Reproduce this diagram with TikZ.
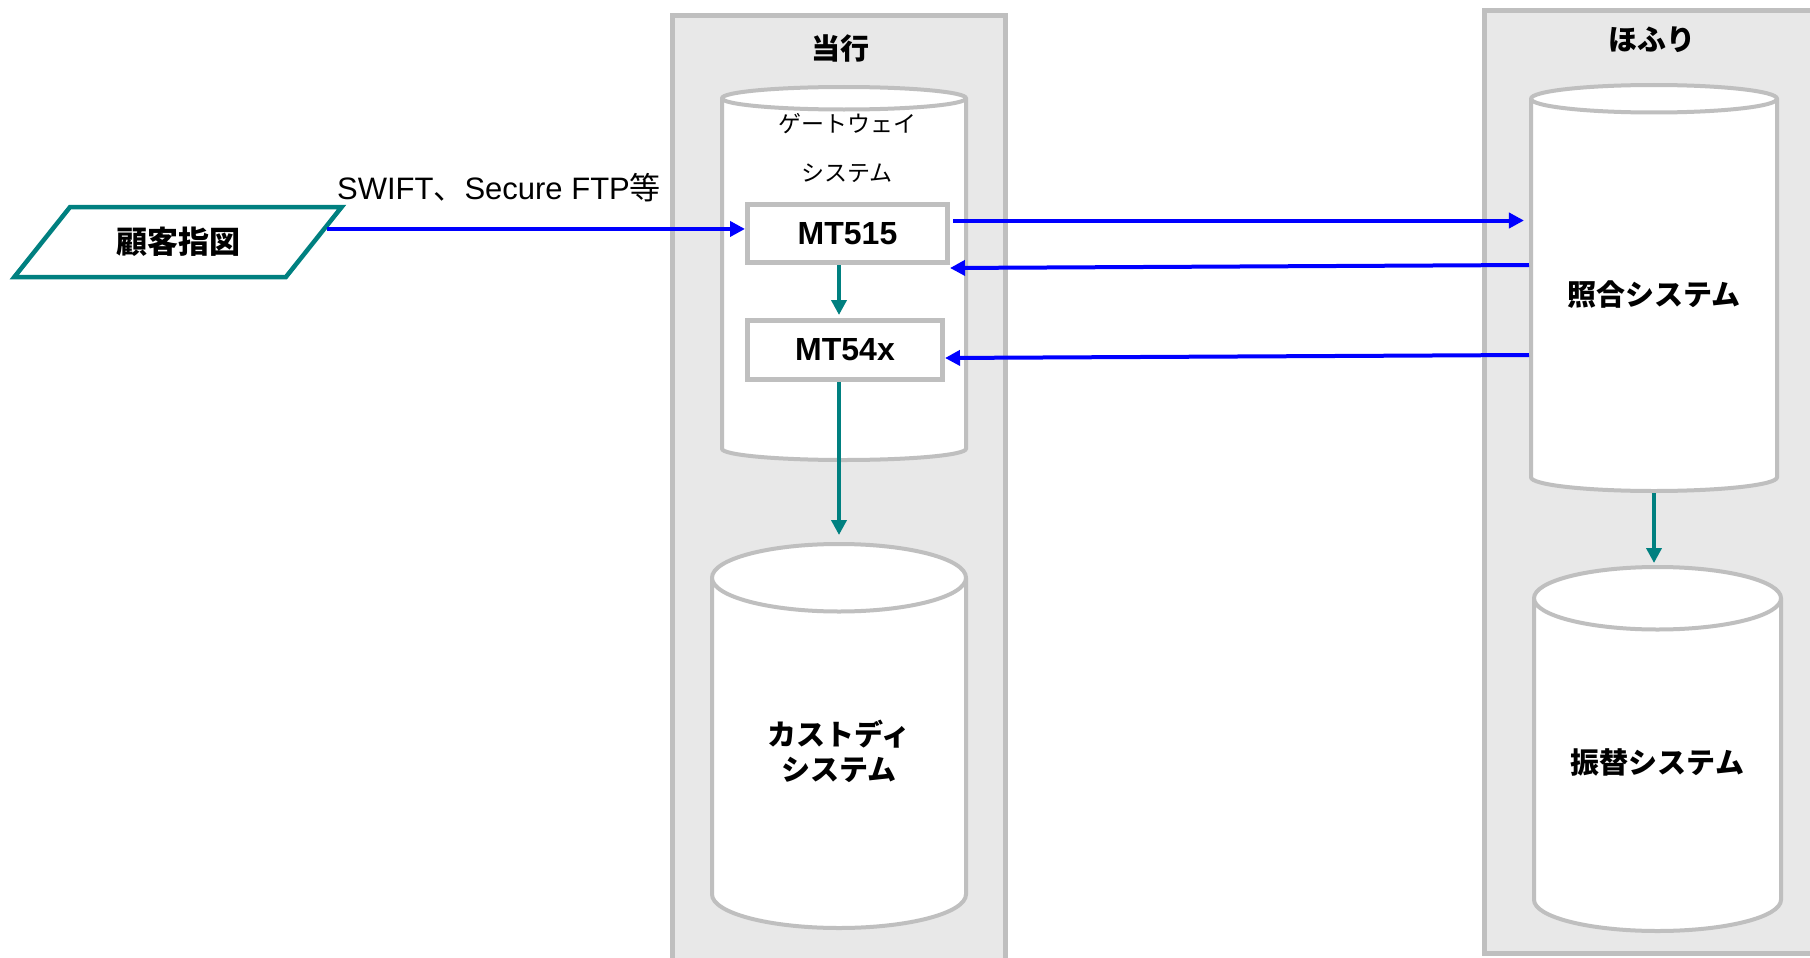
\documentclass[tikz,border=0pt]{standalone}
\usepackage{fontspec}
\setmainfont{Liberation Sans}
\newfontfamily\jp{Noto Sans CJK JP}
\usetikzlibrary{positioning, shapes.geometric, arrows.meta}
\definecolor{frame}{HTML}{BFBFBF}
\definecolor{pane}{HTML}{E8E8E8}
\definecolor{tealline}{HTML}{008080}
\definecolor{msgblue}{HTML}{0000FF}

\begin{document}
\begin{tikzpicture}[x=1pt, y=-1pt,
  sysgroup/.style={draw=frame, fill=pane, line width=5pt},
  grouptitle/.style={font=\jp\bfseries\fontsize{29}{34}\selectfont},
  drum/.style={cylinder, shape border rotate=90, draw=frame, fill=white, line width=4pt, inner xsep=50pt, anchor=north},
  drumtext/.style={align=center, font=\jp\bfseries\fontsize{29}{35}\selectfont},
  msgbox/.style={rectangle, draw=frame, fill=white, line width=5pt, font=\bfseries\fontsize{32}{38}\selectfont},
  instr/.style={trapezium, trapezium left angle=47, trapezium right angle=133, trapezium stretches, draw=tealline, fill=white, line width=4.5pt, font=\jp\bfseries\fontsize{31}{36}\selectfont},
  bluelink/.style={-{Triangle[length=15pt, width=15pt]}, draw=msgblue, line width=4pt},
  teallink/.style={-{Triangle[length=15pt, width=15pt]}, draw=tealline, line width=4pt}
]
\useasboundingbox (0,0) rectangle (1810,958);

% Groups
\draw[sysgroup] (672,16) rectangle (1005,990);
\draw[sysgroup] (1484,11) rectangle (1840,953);
\node[grouptitle] (toko) at (840,48) {当行};
\node[grouptitle] (hofuri) at (1652,40) {ほふり};

% Systems
\node[drum, minimum width=244pt, minimum height=373pt, aspect=0.225] (gateway) at (844,85) {};
\node[font=\jp\fontsize{23}{49}\selectfont, align=center] (gwname) at (847,148) {ゲートウェイ\\システム};
\node[msgbox, minimum width=200pt, minimum height=58pt] (mt515) at (847.5,233.5) {MT515};
\node[msgbox, minimum width=195pt, minimum height=59pt] (mt54x) at (845,350) {MT54x};
\node[drum, minimum width=254pt, minimum height=384pt, aspect=0.675] (custody) at (839,542) {};
\node[drumtext] (custodyname) at (839,751) {カストディ\\システム};
\node[drum, minimum width=246pt, minimum height=406pt, aspect=0.275] (shogo) at (1654,83) {};
\node[drumtext] (shogoname) at (1654,295) {照合システム};
\node[drum, minimum width=247pt, minimum height=364pt, aspect=0.625] (furikae) at (1657.5,565) {};
\node[drumtext] (furikaename) at (1657.5,762) {振替システム};

% Customer instruction
\node[instr, minimum width=328pt, minimum height=70pt] (shiji) at (178,242) {顧客指図};
\node[font=\fontsize{31}{36}\selectfont] (route) at (499,188) {SWIFT{\jp 、}Secure FTP{\jp 等}};

% Connections
\coordinate (out1) at ([yshift=13pt]mt515.east);
\draw[bluelink] (shiji.5.5) -- (shiji.5.5 -| mt515.west);
\draw[bluelink, shorten <=3pt, shorten >=5pt] (out1) -- (out1 -| shogo.west);
\draw[bluelink] (shogo.west |- 0,265) -- (mt515.east |- 0,268);
\draw[bluelink] (shogo.west |- 0,355) -- (mt54x.east |- 0,358);
\draw[teallink, shorten >=3pt] (mt515.south -| custody.north) -- (mt54x.north -| custody.north);
\draw[teallink, shorten >=7pt] (mt54x.south -| custody.north) -- (custody.north);
\draw[teallink, shorten >=2pt] (shogo.south) -- (shogo.south |- furikae.north);

\end{tikzpicture}
\end{document}
